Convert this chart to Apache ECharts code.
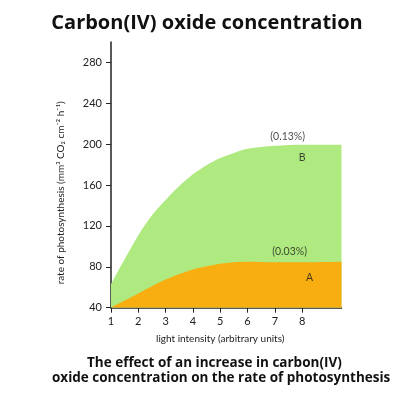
<!DOCTYPE html>
<html>
<head>
<meta charset="utf-8">
<script src="https://cdn.jsdelivr.net/npm/echarts@6/dist/echarts.min.js"></script>
<style>
  html, body { margin: 0; padding: 0; background: #fff; }
  #main { width: 414px; height: 398px; }
</style>
</head>
<body>
<div id="main"></div>
<script>
// light intensity (arbitrary units), shared by both curves
var lightIntensity = [1, 1.25, 1.5, 2, 2.5, 3, 3.5, 4, 4.5, 5, 5.5, 6, 7, 8, 9.44]
// rate at 0.13% CO2 (curve B)
var rateHighCO2 = [63, 75.5, 87.5, 111, 130.5, 145.5, 159, 170.5, 179.5, 186.5, 191.5, 195.5, 198.4, 199.5, 199.5]
// rate at 0.03% CO2 (curve A)
var rateLowCO2 = [40, 43.5, 47, 54, 61, 67.5, 73, 77.5, 80.5, 83, 84.5, 85, 84.5, 84.5, 85]

var xTicks = [1, 2, 3, 4, 5, 6, 7, 8]
var yTicks = [40, 80, 120, 160, 200, 240, 280]

var noteText = ['(0.13%)', 'B', '(0.03%)', 'A']
var noteX = [7.47, 8.0, 7.54, 8.27]
var noteY = [207.5, 186.5, 94.5, 69.5]

function pairs (xs, ys) {
  return xs.map(function (x, i) { return [x, ys[i]] })
}

var font = 'Lato, "DejaVu Sans", sans-serif'
var chart = echarts.init(document.getElementById('main'), null, { renderer: 'canvas' })

chart.setOption({
  animation: false,
  backgroundColor: '#fff',
  title: {
    text: 'Carbon(IV) oxide concentration',
    left: 'center',
    top: 8,
    textStyle: { fontFamily: '"Open Sans", sans-serif', fontWeight: 'bold', fontSize: 20, color: '#111' }
  },
  grid: { left: 111, right: 72.5, top: 42, bottom: 90.3 },
  xAxis: {
    type: 'value',
    min: 1,
    max: 9.44,
    name: 'light intensity (arbitrary units)',
    nameLocation: 'middle',
    nameGap: 26,
    nameTextStyle: { fontFamily: font, fontSize: 10, color: '#222', padding: [0, 12, 0, 0] },
    axisLine: { show: true, lineStyle: { color: '#222', width: 1.5 } },
    axisTick: { show: true, length: 5, customValues: xTicks, lineStyle: { color: '#222' } },
    axisLabel: { customValues: xTicks, margin: 8, fontFamily: font, fontSize: 11, color: '#222' },
    splitLine: { show: false }
  },
  yAxis: {
    type: 'value',
    min: 40,
    max: 300,
    name: 'rate of photosynthesis (mm³ CO₂ cm⁻² h⁻¹)',
    nameLocation: 'middle',
    nameGap: 45,
    nameTextStyle: { fontFamily: font, fontSize: 10, color: '#222', padding: [0, 36, 0, 0] },
    axisLine: { show: true, lineStyle: { color: '#222', width: 1.5 } },
    axisTick: { show: true, length: 5, customValues: yTicks, lineStyle: { color: '#222' } },
    axisLabel: { customValues: yTicks, margin: 9, fontFamily: font, fontSize: 11, color: '#222' },
    splitLine: { show: false }
  },
  series: [
    {
      name: 'B',
      type: 'line',
      data: pairs(lightIntensity, rateHighCO2),
      smooth: 0.3,
      symbol: 'none',
      lineStyle: { width: 0 },
      areaStyle: { color: '#afea80', opacity: 1 }
    },
    {
      name: 'A',
      type: 'line',
      data: pairs(lightIntensity, rateLowCO2),
      smooth: 0.3,
      symbol: 'none',
      lineStyle: { width: 0 },
      areaStyle: { color: '#f8ae10', opacity: 1 }
    },
    {
      name: 'notes',
      type: 'scatter',
      z: 10,
      symbolSize: 0,
      data: noteText.map(function (t, i) { return { name: t, value: [noteX[i], noteY[i]] } }),
      label: {
        show: true,
        position: 'inside',
        formatter: '{b}',
        fontFamily: font,
        fontSize: 10.5,
        color: '#1a1a1a'
      }
    }
  ],
  graphic: [
    {
      type: 'text',
      left: 87,
      top: 356,
      style: {
        text: 'The effect of an increase in carbon(IV)',
        font: 'bold 13.5px "Open Sans", sans-serif',
        fill: '#111'
      }
    },
    {
      type: 'text',
      left: 52,
      top: 371,
      style: {
        text: 'oxide concentration on the rate of photosynthesis',
        font: 'bold 13.5px "Open Sans", sans-serif',
        fill: '#111'
      }
    }
  ]
})
</script>
</body>
</html>
